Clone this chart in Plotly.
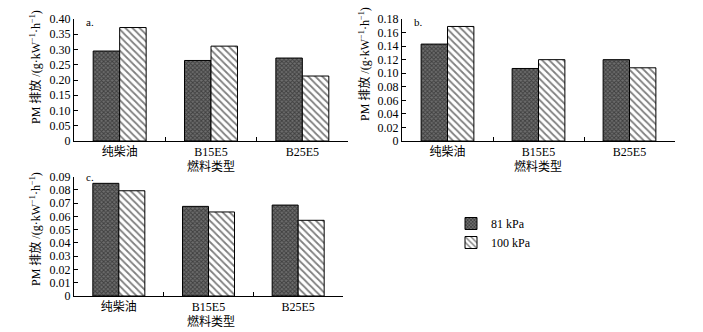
import plotly.graph_objects as go

categories = ["纯柴油", "B15E5", "B25E5"]
series_names = ["81 kPa", "100 kPa"]
a_81 = [0.295, 0.264, 0.272]
a_100 = [0.372, 0.311, 0.213]
b_81 = [0.143, 0.107, 0.120]
b_100 = [0.169, 0.120, 0.108]
c_81 = [0.085, 0.0676, 0.0686]
c_100 = [0.0794, 0.0634, 0.0571]
a_ticks = [0, 0.05, 0.10, 0.15, 0.20, 0.25, 0.30, 0.35, 0.40]
b_ticks = [0, 0.02, 0.04, 0.06, 0.08, 0.10, 0.12, 0.14, 0.16, 0.18]
c_ticks = [0, 0.01, 0.02, 0.03, 0.04, 0.05, 0.06, 0.07, 0.08, 0.09]
xlabel = "燃料类型"
ylabel = "PM 排放 /(g·kW<sup>−1</sup>·h<sup>−1</sup>)"

W, H = 703, 332
FONT = "Liberation Serif, Times New Roman, Noto Sans CJK SC, serif"

def fx(px):
    return px / W

def fy(py):
    return 1 - py / H

fig = go.Figure()

pat81 = dict(shape="x", size=3, solidity=0.55, fgcolor="#111111", bgcolor="#6e6e6e")
pat100 = dict(shape="\\", size=5, solidity=0.35, fgcolor="#000000", bgcolor="#ffffff")

panels = [
    ("x", "y", a_81, a_100, True),
    ("x2", "y2", b_81, b_100, False),
    ("x3", "y3", c_81, c_100, False),
]
for xa, ya, v81, v100, show in panels:
    fig.add_trace(go.Bar(x=categories, y=v81, name=series_names[0], xaxis=xa, yaxis=ya,
                         marker=dict(color="#6e6e6e", pattern=pat81, line=dict(color="black", width=1)),
                         showlegend=show, legendgroup="81"))
    fig.add_trace(go.Bar(x=categories, y=v100, name=series_names[1], xaxis=xa, yaxis=ya,
                         marker=dict(color="white", pattern=pat100, line=dict(color="black", width=1)),
                         showlegend=show, legendgroup="100"))

xcommon = dict(showline=True, linecolor="black", linewidth=1, ticks="inside", ticklen=4,
               tickson="boundaries", tickcolor="black", showgrid=False, zeroline=False,
               automargin=False,
               tickfont=dict(family=FONT, size=12, color="black"), fixedrange=True)
ycommon = dict(showline=True, linecolor="black", linewidth=1, ticks="inside", ticklen=4,
               tickcolor="black", showgrid=False, zeroline=False, automargin=False,
               tickfont=dict(family=FONT, size=12, color="black"), fixedrange=True)

fig.update_layout(
    width=W, height=H,
    margin=dict(l=0, r=0, t=0, b=0, pad=0, autoexpand=False),
    paper_bgcolor="white", plot_bgcolor="white",
    barmode="group", bargap=0.42, bargroupgap=0,
    font=dict(family=FONT, size=12, color="black"),
    xaxis=dict(domain=[fx(74), fx(348)], anchor="y", **xcommon),
    yaxis=dict(domain=[fy(141), fy(19)], anchor="x", range=[0, 0.40], tickvals=a_ticks,
               ticktext=["0" if t == 0 else f"{t:.2f}" for t in a_ticks], **ycommon),
    xaxis2=dict(domain=[fx(402), fx(675)], anchor="y2", **xcommon),
    yaxis2=dict(domain=[fy(141), fy(19)], anchor="x2", range=[0, 0.18], tickvals=b_ticks,
                ticktext=["0" if t == 0 else f"{t:.2f}" for t in b_ticks], **ycommon),
    xaxis3=dict(domain=[fx(74), fx(343)], anchor="y3", **xcommon),
    yaxis3=dict(domain=[fy(296), fy(176.7)], anchor="x3", range=[0, 0.09], tickvals=c_ticks,
                ticktext=["0" if t == 0 else f"{t:.2f}" for t in c_ticks], **ycommon),
    legend=dict(x=fx(451), y=fy(209), xanchor="left", yanchor="top",
                font=dict(family=FONT, size=12, color="black"),
                itemwidth=30, tracegroupgap=0, bgcolor="rgba(0,0,0,0)"),
)

ann = []
for x, y, t in [(211, 166, xlabel), (538, 166, xlabel), (211, 321, xlabel)]:
    ann.append(dict(x=fx(x), y=fy(y), xref="paper", yref="paper", text=t, showarrow=False,
                    font=dict(family=FONT, size=12, color="black"), xanchor="center", yanchor="middle"))
for x, y in [(35, 67), (365, 64), (35, 229)]:
    ann.append(dict(x=fx(x), y=fy(y), xref="paper", yref="paper", text=ylabel, showarrow=False,
                    textangle=-90, font=dict(family=FONT, size=12, color="black"),
                    xanchor="center", yanchor="middle"))
for x, y, t in [(84, 22, "a."), (412, 22, "b."), (84, 177, "c.")]:
    ann.append(dict(x=fx(x), y=fy(y), xref="paper", yref="paper", text=t, showarrow=False,
                    font=dict(family=FONT, size=11, color="black"), xanchor="left", yanchor="middle"))
fig.update_layout(annotations=ann)

fig.write_html("out.html", config={"displayModeBar": False},
               post_script="document.body.style.margin='0';document.body.style.overflow='hidden';")
